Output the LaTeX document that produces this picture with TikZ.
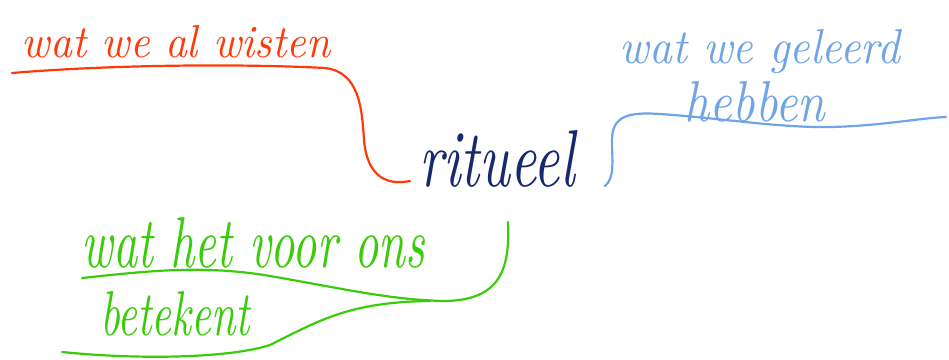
\documentclass[tikz,border=0pt]{standalone}
\usepackage{graphicx}
\definecolor{redink}{HTML}{FF3A0A}
\definecolor{navyink}{HTML}{16286E}
\definecolor{blueink}{HTML}{6FA4E6}
\definecolor{greenink}{HTML}{3ACC08}
\newcommand\handtext[3]{\resizebox{#1}{#2}{\itshape #3}}
\tikzset{
  hw/.style={anchor=base, inner sep=0pt, outer sep=0pt},
  stroke/.style={line width=2.2pt, line cap=round, line join=round}
}
\begin{document}
\begin{tikzpicture}[x=1pt,y=-1pt]
\useasboundingbox (0,0) rectangle (949,359);
% centre
\node[hw, text=navyink] (rit) at (497,186) {\handtext{155pt}{56pt}{ritueel}};
% labels
\node[hw, text=redink] (known) at (176,57) {\handtext{308pt}{32pt}{wat we al wisten}};
\node[hw, text=blueink] (learned1) at (760,63) {\handtext{280pt}{34pt}{wat we geleerd}};
\node[hw, text=blueink] (learned2) at (755,121) {\handtext{140pt}{40pt}{hebben}};
\node[hw, text=greenink] (means1) at (253,267) {\handtext{343pt}{50pt}{wat het voor ons}};
\node[hw, text=greenink] (means2) at (175,335) {\handtext{150pt}{44pt}{betekent}};
% free ends
\coordinate (r0) at (12,73);
\coordinate (r1) at (410,181);
\coordinate (b0) at (605,186);
\coordinate (b1) at (946,117);
\coordinate (g0) at (508,222);
\coordinate (g1) at (82,278);
\coordinate (g2) at (62,352);
\coordinate (gj) at (430,301);
% red branch
\draw[stroke, redink] (r0) .. controls (120,64) and (250,64) .. (325,68)
  .. controls (360,72) and (362,110) .. (364,140)
  .. controls (367,175) and (385,186) .. (r1);
% blue branch
\draw[stroke, blueink] (b0) .. controls (615,178) and (612,160) .. (612,140)
  .. controls (612,115) and (630,112) .. (660,114)
  .. controls (720,118) and (780,128) .. (830,127)
  .. controls (880,126) and (920,118) .. (b1);
% green branch
\draw[stroke, greenink] (g1) .. controls (140,272) and (200,264) .. (270,276)
  .. controls (340,288) and (390,300) .. (445,301)
  .. controls (500,300) and (510,270) .. (g0);
\draw[stroke, greenink] (g2) .. controls (140,360) and (230,358) .. (270,345)
  .. controls (320,320) and (350,302) .. (gj);
\end{tikzpicture}
\end{document}
